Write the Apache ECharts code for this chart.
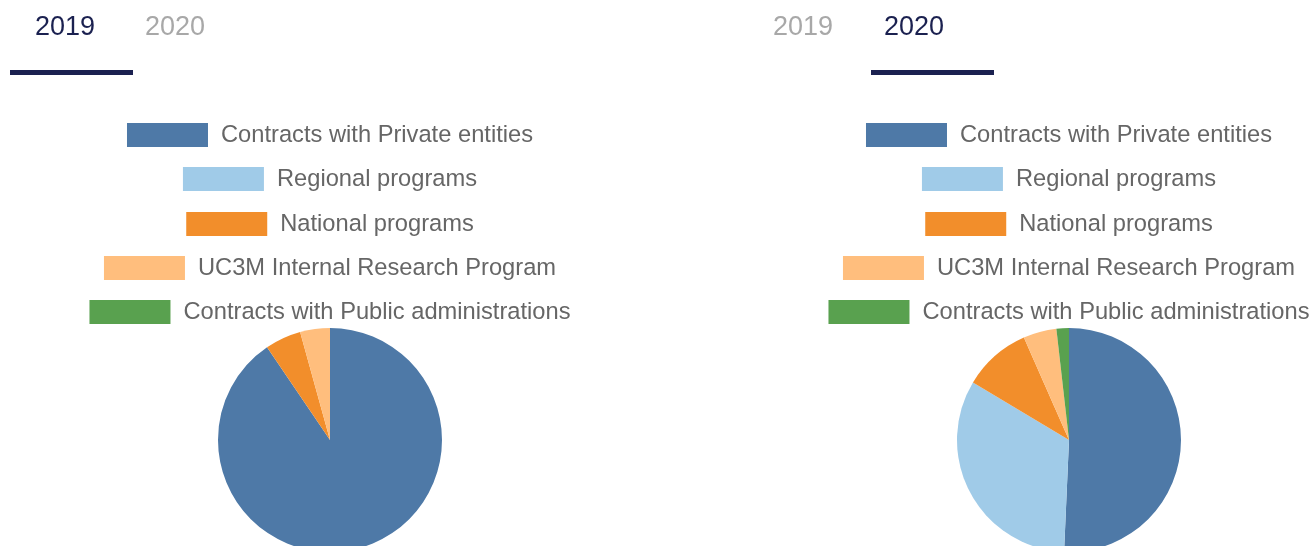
<!DOCTYPE html>
<html>
<head>
<meta charset="utf-8">
<script src="https://cdn.jsdelivr.net/npm/echarts@6/dist/echarts.min.js"></script>
<style>
html,body{margin:0;padding:0;width:1316px;height:546px;overflow:hidden;background:#fff;}
#c1{position:absolute;left:0;top:0;width:660px;height:546px;}
#c2{position:absolute;left:739px;top:0;width:660px;height:546px;}
</style>
</head>
<body>
<div id="c1"></div>
<div id="c2"></div>
<script>
const categories = ['Contracts with Private entities','Regional programs','National programs','UC3M Internal Research Program','Contracts with Public administrations'];
const values2019 = [90.5, 0, 5.2, 4.3, 0];
const values2020 = [50.7, 32.9, 9.8, 4.8, 1.8];
const tabLabels = ['2019', '2020'];
const colors = ['#4e79a7', '#a0cbe8', '#f28e2b', '#ffbe7d', '#59a14f'];

const FONT = '"Liberation Sans", Arial, sans-serif';
const legendTops = [123, 167, 212, 256, 300];

function buildOption(values, activeIdx, tabX, underline) {
  const legends = categories.map((name, i) => ({
    data: [name],
    left: 'center',
    top: legendTops[i],
    orient: 'horizontal',
    padding: 0,
    icon: 'rect',
    itemWidth: 81,
    itemHeight: 24,
    selectedMode: false,
    textStyle: { fontFamily: FONT, fontSize: 23.7, color: '#666', padding: [0, 0, 0, 8] }
  }));
  const graphic = tabLabels.map((t, i) => ({
    type: 'text',
    x: tabX[i],
    y: 27.5,
    style: {
      text: t,
      font: '27px ' + FONT,
      fill: i === activeIdx ? '#1b2150' : '#a8a8a8',
      align: 'left',
      verticalAlign: 'middle'
    },
    silent: true
  }));
  graphic.push({
    type: 'rect',
    shape: { x: underline[0], y: 70, width: underline[1] - underline[0], height: 5 },
    style: { fill: '#1b2150' },
    silent: true
  });
  return {
    animation: false,
    color: colors,
    legend: legends,
    graphic: graphic,
    series: [{
      type: 'pie',
      center: [330, 440],
      radius: 112,
      startAngle: 90,
      clockwise: true,
      label: { show: false },
      labelLine: { show: false },
      emphasis: { disabled: true },
      itemStyle: { borderWidth: 0 },
      data: categories.map((n, i) => ({ name: n, value: values[i] }))
    }]
  };
}

const ch1 = echarts.init(document.getElementById('c1'), null, { renderer: 'canvas' });
ch1.setOption(buildOption(values2019, 0, [35, 145], [10, 133]));
const ch2 = echarts.init(document.getElementById('c2'), null, { renderer: 'canvas' });
ch2.setOption(buildOption(values2020, 1, [34, 145], [132, 255]));
</script>
</body>
</html>
